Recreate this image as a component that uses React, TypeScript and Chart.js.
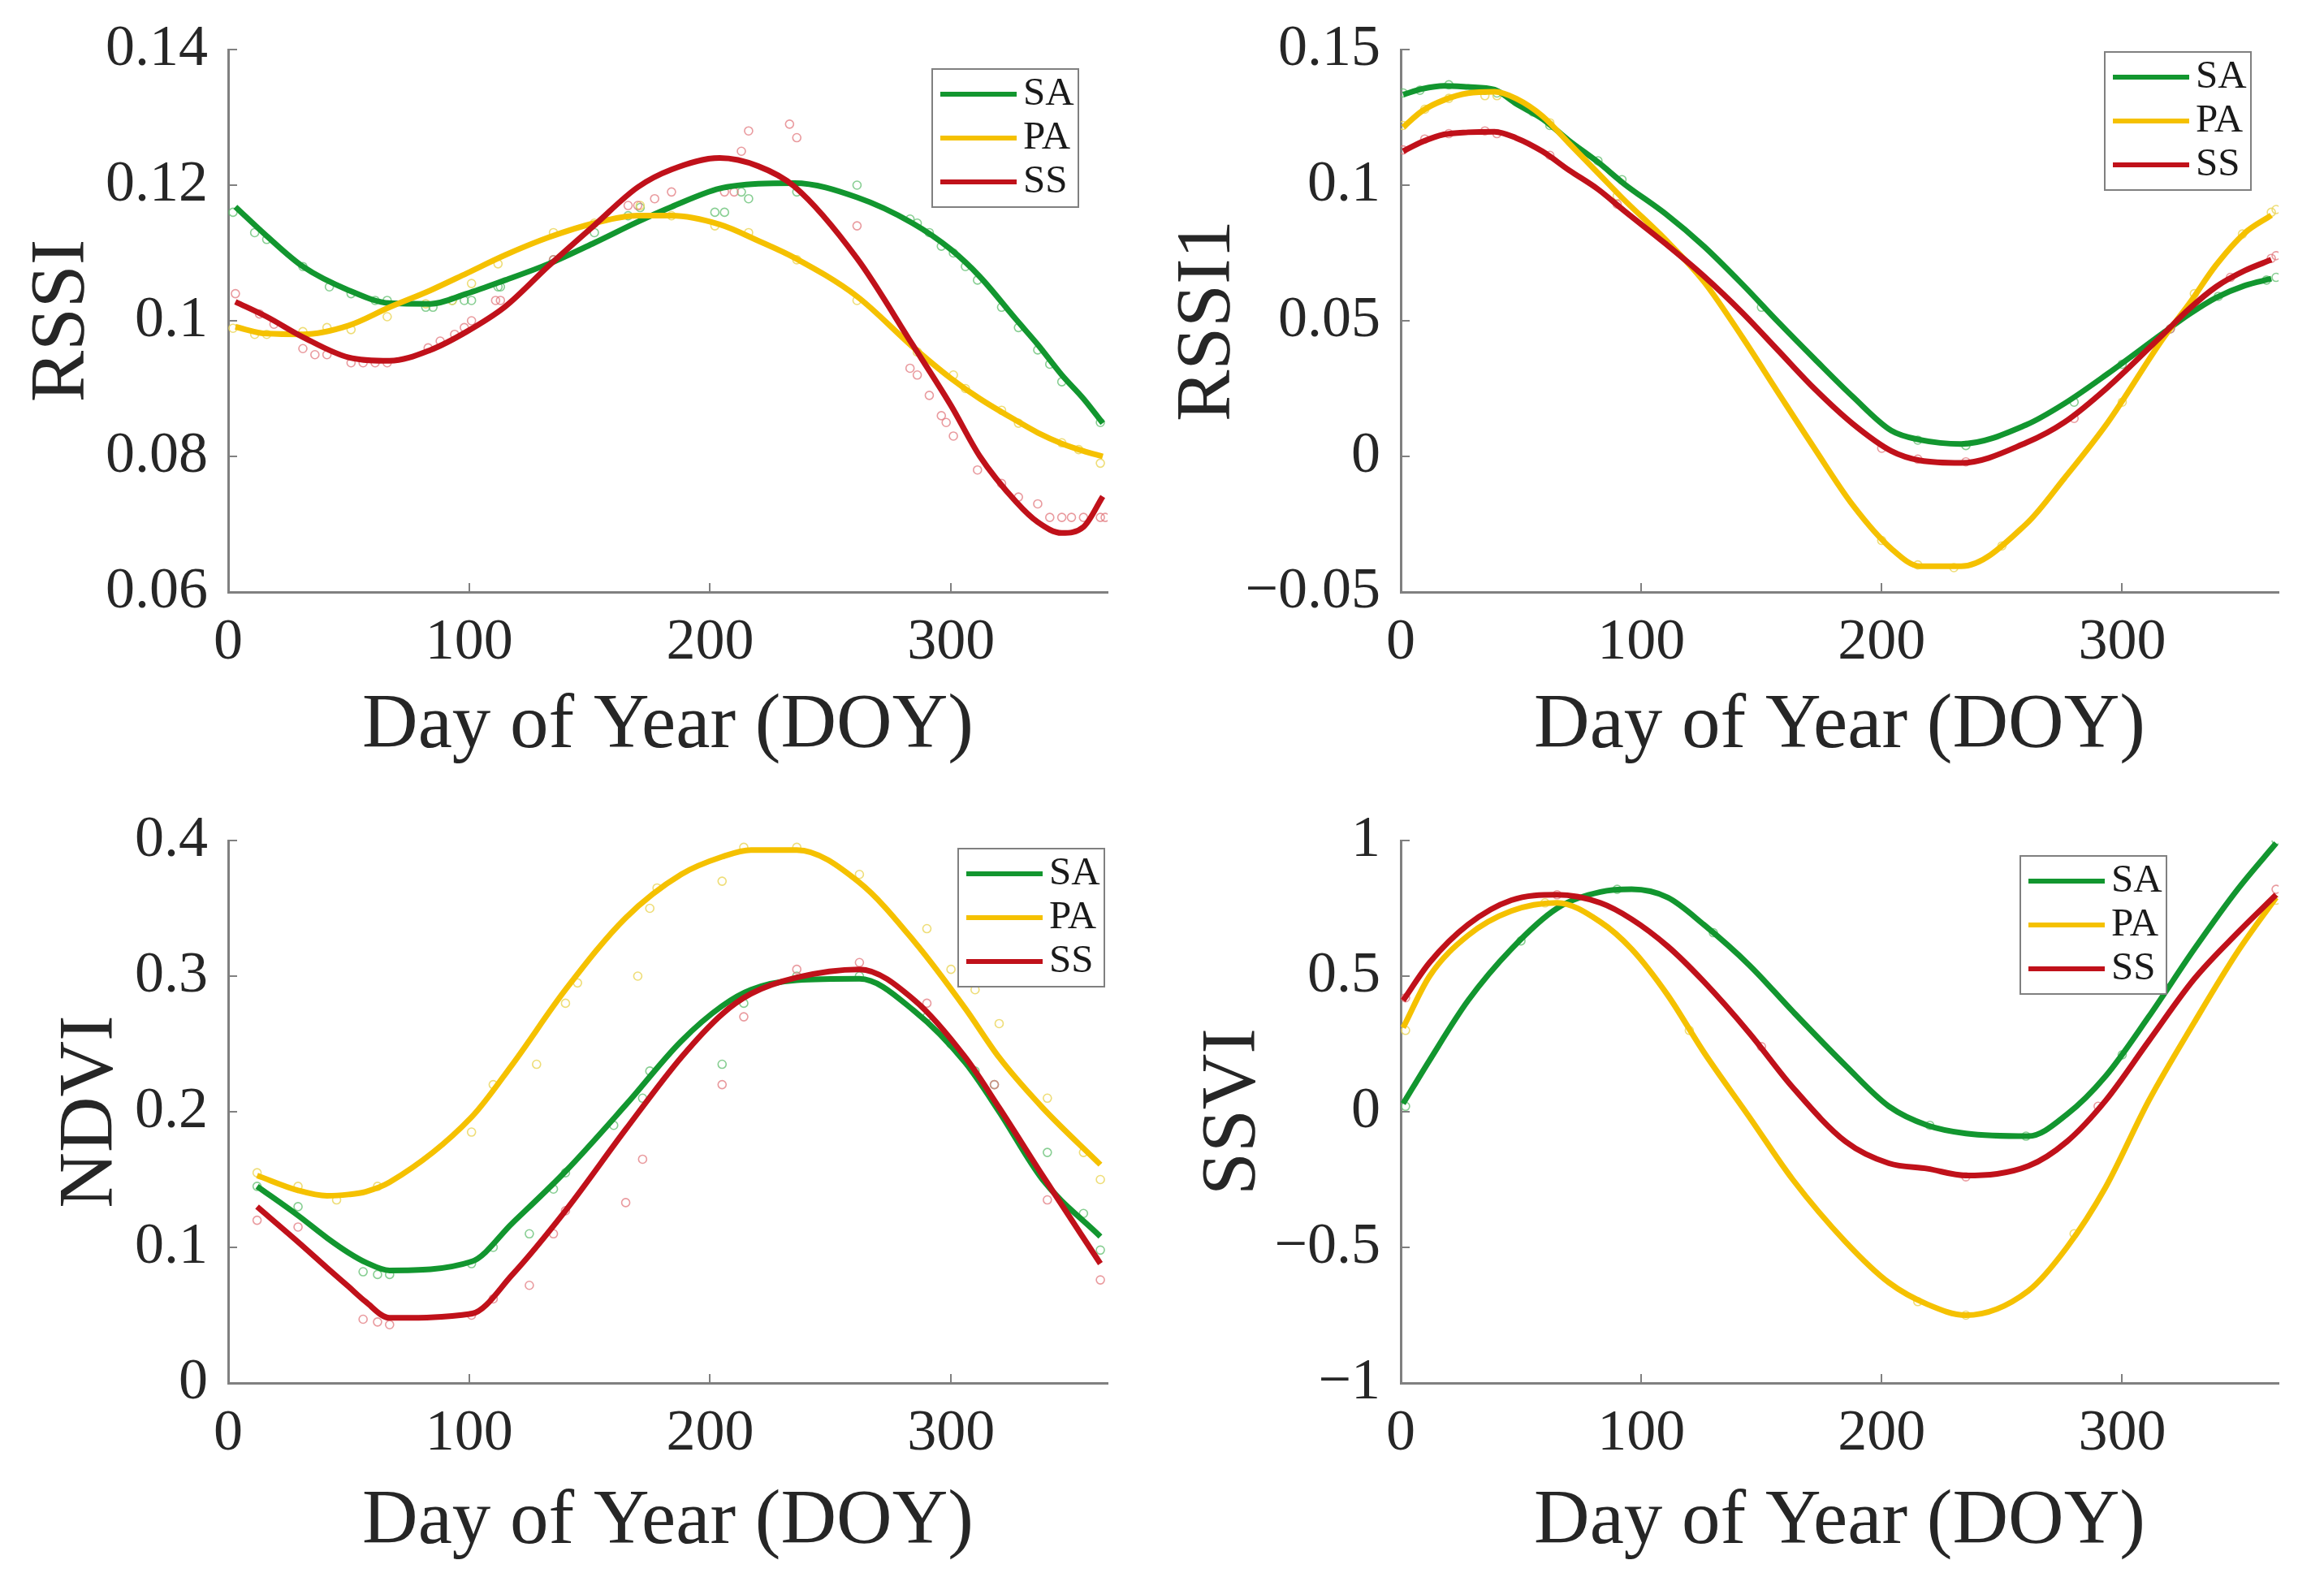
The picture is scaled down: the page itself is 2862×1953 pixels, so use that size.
import React, { useEffect, useRef } from "react";
import Chart from "chart.js/auto";

const FONT = "'Liberation Serif', 'Times New Roman', serif";
const TEXT_COLOR = "#262626";
const AXIS_COLOR = "#808080";

const seriesNames = ["SA", "PA", "SS"];
const lineColors = ["#12962f", "#f5c100", "#c0111a"];
const dotColors = [
  "rgba(95, 190, 110, 0.75)",
  "rgba(235, 215, 95, 0.85)",
  "rgba(225, 120, 125, 0.75)",
];

const doyTicks = [0, 100, 200, 300];
const doyTickLabels = ["0", "100", "200", "300"];

// RSSI (top left)
const rssiTicks = [0.06, 0.08, 0.1, 0.12, 0.14];
const rssiTickLabels = ["0.06", "0.08", "0.1", "0.12", "0.14"];
const rssiDays = [3, 16, 31, 50, 67, 84, 99, 115, 133, 152, 170, 184, 204, 220, 235, 261, 284, 300, 312, 327, 336, 346, 355, 363];
const rssiSA = [0.1168, 0.1125, 0.108, 0.1045, 0.1026, 0.1025, 0.104, 0.106, 0.1084, 0.1115, 0.1146, 0.1168, 0.1195, 0.1202, 0.1203, 0.1182, 0.1144, 0.1105, 0.1065, 0.1002, 0.0965, 0.092, 0.0885, 0.0849];
const rssiPA = [0.0991, 0.0981, 0.098, 0.0993, 0.102, 0.1045, 0.107, 0.1097, 0.1123, 0.1144, 0.1155, 0.1155, 0.1142, 0.1118, 0.1093, 0.1036, 0.0962, 0.0915, 0.0885, 0.0853, 0.0835, 0.0819, 0.0808, 0.08];
const rssiSS = [0.1028, 0.1006, 0.0976, 0.0946, 0.0941, 0.0957, 0.0984, 0.1021, 0.1081, 0.1141, 0.1197, 0.1223, 0.124, 0.1228, 0.1198, 0.1092, 0.0965, 0.0875, 0.08, 0.0733, 0.0703, 0.0687, 0.0696, 0.0741];
const rssiDotDaysSA = [2, 11, 16, 31, 42, 51, 61, 66, 82, 85, 93, 98, 101, 112, 113, 135, 152, 166, 171, 202, 206, 213, 216, 236, 261, 283, 286, 291, 296, 301, 306, 311, 321, 328, 336, 341, 346, 362];
const rssiDotsSA = [0.116, 0.113, 0.112, 0.108, 0.105, 0.104, 0.103, 0.103, 0.102, 0.102, 0.103, 0.103, 0.103, 0.105, 0.105, 0.109, 0.113, 0.1155, 0.1167, 0.116, 0.116, 0.119, 0.118, 0.119, 0.12, 0.115, 0.1144, 0.113, 0.111, 0.11, 0.108, 0.106, 0.102, 0.099, 0.0957, 0.0936, 0.091, 0.085];
const rssiDotDaysPA = [2, 11, 16, 31, 41, 51, 66, 82, 93, 101, 112, 135, 152, 171, 184, 202, 216, 236, 261, 286, 301, 306, 321, 328, 346, 353, 362];
const rssiDotsPA = [0.0989, 0.098, 0.098, 0.0984, 0.099, 0.0987, 0.1006, 0.1025, 0.103, 0.1055, 0.1084, 0.113, 0.1144, 0.117, 0.1155, 0.114, 0.113, 0.109, 0.103, 0.0954, 0.092, 0.09, 0.0868, 0.0849, 0.082, 0.081, 0.079];
const rssiDotDaysSS = [3, 13, 19, 31, 36, 41, 51, 56, 61, 66, 83, 88, 94, 98, 101, 111, 113, 135, 166, 170, 177, 184, 206, 210, 213, 216, 233, 236, 261, 283, 286, 291, 296, 298, 301, 311, 321, 328, 336, 341, 346, 350, 355, 362, 364];
const rssiDotsSS = [0.104, 0.101, 0.0995, 0.0959, 0.095, 0.095, 0.0938, 0.0938, 0.0938, 0.0938, 0.096, 0.097, 0.098, 0.099, 0.1, 0.103, 0.103, 0.109, 0.117, 0.117, 0.118, 0.119, 0.119, 0.119, 0.125, 0.128, 0.129, 0.127, 0.114, 0.093, 0.092, 0.089, 0.086, 0.085, 0.083, 0.078, 0.076, 0.074, 0.073, 0.071, 0.071, 0.071, 0.071, 0.071, 0.071];

// RSSI1 (top right)
const rssi1Ticks = [-0.05, 0, 0.05, 0.1, 0.15];
const rssi1TickLabels = ["\u22120.05", "0", "0.05", "0.1", "0.15"];
const rssi1Days = [1, 9, 18, 28, 39, 48, 59, 70, 82, 93, 110, 126, 142, 157, 172, 188, 204, 216, 233, 260, 276, 294, 317, 328, 339, 351, 362];
const rssi1SA = [0.1334, 0.1355, 0.1366, 0.1362, 0.1352, 0.13, 0.1244, 0.1164, 0.1085, 0.1004, 0.0895, 0.0775, 0.0635, 0.0495, 0.036, 0.022, 0.0095, 0.0061, 0.0046, 0.0116, 0.0195, 0.0305, 0.0455, 0.0525, 0.0585, 0.063, 0.0655];
const rssi1PA = [0.1214, 0.1274, 0.1314, 0.1339, 0.1344, 0.1319, 0.1254, 0.1154, 0.1045, 0.0945, 0.08, 0.0645, 0.044, 0.0234, 0.003, -0.018, -0.034, -0.0405, -0.0405, -0.025, -0.008, 0.0125, 0.0435, 0.0565, 0.0705, 0.0824, 0.0889];
const rssi1SS = [0.1125, 0.116, 0.1187, 0.1195, 0.1197, 0.1174, 0.1124, 0.1055, 0.0985, 0.0905, 0.0785, 0.0665, 0.053, 0.039, 0.025, 0.012, 0.002, -0.0015, -0.0024, 0.005, 0.0126, 0.0255, 0.045, 0.0545, 0.0625, 0.0685, 0.0725];
const rssi1DotDaysSA = [1, 8, 20, 35, 40, 55, 62, 82, 92, 150, 215, 235, 280, 300, 320, 340, 360, 364];
const rssi1DotsSA = [0.134, 0.135, 0.137, 0.135, 0.134, 0.127, 0.122, 0.109, 0.102, 0.055, 0.006, 0.004, 0.02, 0.034, 0.047, 0.059, 0.065, 0.066];
const rssi1DotDaysPA = [1, 10, 20, 35, 40, 62, 90, 200, 215, 230, 250, 300, 330, 350, 362, 364];
const rssi1DotsPA = [0.122, 0.128, 0.132, 0.133, 0.133, 0.123, 0.096, -0.031, -0.04, -0.041, -0.033, 0.02, 0.06, 0.082, 0.09, 0.091];
const rssi1DotDaysSS = [1, 10, 20, 35, 40, 62, 90, 200, 215, 235, 280, 320, 345, 362, 364];
const rssi1DotsSS = [0.113, 0.117, 0.119, 0.12, 0.119, 0.111, 0.093, 0.003, -0.001, -0.002, 0.014, 0.047, 0.066, 0.073, 0.074];

// NDVI (bottom left)
const ndviTicks = [0, 0.1, 0.2, 0.3, 0.4];
const ndviTickLabels = ["0", "0.1", "0.2", "0.3", "0.4"];
const ndviDays = [12, 29, 41, 50, 57, 67, 101, 118, 140, 165, 188, 205, 217, 236, 262, 285, 306, 320, 338, 362];
const ndviSA = [0.145, 0.1235, 0.107, 0.096, 0.089, 0.083, 0.0895, 0.118, 0.156, 0.205, 0.252, 0.278, 0.29, 0.297, 0.298, 0.274, 0.236, 0.2, 0.15, 0.108];
const ndviPA = [0.153, 0.142, 0.138, 0.139, 0.141, 0.148, 0.196, 0.235, 0.29, 0.343, 0.375, 0.388, 0.393, 0.393, 0.369, 0.325, 0.276, 0.24, 0.203, 0.161];
const ndviSS = [0.13, 0.104, 0.085, 0.071, 0.06, 0.048, 0.051, 0.08, 0.127, 0.187, 0.24, 0.272, 0.287, 0.299, 0.305, 0.282, 0.24, 0.203, 0.153, 0.088];
const ndviDotDaysSA = [12, 29, 56, 62, 67, 101, 110, 125, 135, 140, 160, 172, 175, 205, 214, 236, 262, 290, 300, 310, 318, 340, 355, 362];
const ndviDotsSA = [0.145, 0.13, 0.082, 0.08, 0.08, 0.088, 0.1, 0.11, 0.143, 0.155, 0.19, 0.21, 0.23, 0.235, 0.28, 0.3, 0.3, 0.27, 0.25, 0.23, 0.22, 0.17, 0.125, 0.098];
const ndviDotDaysPA = [12, 29, 45, 62, 101, 110, 128, 140, 145, 170, 175, 178, 205, 214, 236, 262, 290, 300, 310, 320, 340, 355, 362];
const ndviDotsPA = [0.155, 0.145, 0.135, 0.145, 0.185, 0.22, 0.235, 0.28, 0.295, 0.3, 0.35, 0.365, 0.37, 0.395, 0.395, 0.375, 0.335, 0.305, 0.29, 0.265, 0.21, 0.17, 0.15];
const ndviDotDaysSS = [12, 29, 56, 62, 67, 101, 110, 125, 135, 140, 165, 172, 205, 214, 236, 262, 290, 318, 340, 362];
const ndviDotsSS = [0.12, 0.115, 0.047, 0.045, 0.043, 0.05, 0.062, 0.072, 0.11, 0.127, 0.133, 0.165, 0.22, 0.27, 0.305, 0.31, 0.28, 0.22, 0.135, 0.076];

// SSVI (bottom right)
const ssviTicks = [-1, -0.5, 0, 0.5, 1];
const ssviTickLabels = ["\u22121", "\u22120.5", "0", "0.5", "1"];
const ssviDays = [1, 12, 28, 46, 65, 83, 96, 111, 126, 145, 163, 185, 203, 219, 235, 261, 277, 293, 311, 330, 348, 364];
const ssviSA = [0.03, 0.19, 0.41, 0.6, 0.75, 0.81, 0.82, 0.79, 0.69, 0.54, 0.37, 0.17, 0.02, -0.05, -0.08, -0.09, -0.01, 0.13, 0.35, 0.6, 0.82, 0.99];
const ssviPA = [0.31, 0.5, 0.65, 0.74, 0.77, 0.7, 0.6, 0.43, 0.22, -0.02, -0.25, -0.48, -0.63, -0.71, -0.75, -0.66, -0.5, -0.28, 0.04, 0.33, 0.59, 0.79];
const ssviSS = [0.41, 0.55, 0.69, 0.78, 0.8, 0.77, 0.71, 0.61, 0.48, 0.29, 0.09, -0.11, -0.19, -0.21, -0.235, -0.2, -0.11, 0.04, 0.26, 0.49, 0.66, 0.8];
const ssviDotDaysSA = [2, 50, 90, 130, 220, 260, 300, 364];
const ssviDotsSA = [0.02, 0.63, 0.82, 0.66, -0.05, -0.09, 0.21, 1.0];
const ssviDotDaysPA = [2, 60, 120, 215, 235, 280, 364];
const ssviDotsPA = [0.3, 0.77, 0.3, -0.7, -0.75, -0.45, 0.78];
const ssviDotDaysSS = [2, 65, 150, 235, 290, 364];
const ssviDotsSS = [0.42, 0.8, 0.24, -0.24, 0.02, 0.82];

// legend drawn as a framed box inside the plot, like the MATLAB one
const boxLegend = {
  id: "boxLegend",
  afterDraw(chart: any, _args: any, opts: any) {
    const { ctx, chartArea } = chart;
    const w = 180;
    const h = 170;
    const x0 = chartArea.right - opts.right - w;
    const y0 = chartArea.top + opts.top;
    ctx.save();
    ctx.fillStyle = "#ffffff";
    ctx.fillRect(x0, y0, w, h);
    ctx.strokeStyle = AXIS_COLOR;
    ctx.lineWidth = 2;
    ctx.strokeRect(x0, y0, w, h);
    const items = chart.data.datasets.filter((d: any) => !d.isDots);
    items.sort((a: any, b: any) => a.seriesIndex - b.seriesIndex);
    items.forEach((ds: any, i: number) => {
      const y = y0 + 31 + i * 54;
      ctx.strokeStyle = ds.borderColor;
      ctx.lineWidth = 6;
      ctx.beginPath();
      ctx.moveTo(x0 + 10, y);
      ctx.lineTo(x0 + 104, y);
      ctx.stroke();
      ctx.fillStyle = "#1a1a1a";
      ctx.font = `49px ${FONT}`;
      ctx.textBaseline = "middle";
      ctx.textAlign = "left";
      ctx.fillText(ds.label, x0 + 112, y);
    });
    ctx.restore();
  },
};

const toPoints = (days: number[], vals: number[]) =>
  days.map((d, i) => ({ x: d, y: vals[i] }));

interface PanelProps {
  left: number;
  top: number;
  width: number;
  height: number;
  yTitle: string;
  yTicks: number[];
  yTickLabels: string[];
  curveDays: number[];
  curves: number[][];
  dotDays: number[][];
  dots: number[][];
  padTop: number;
  padRight: number;
  yAxisWidth: number;
  xAxisHeight: number;
  yTitlePad: number;
  xTitlePad: number;
  legendRight: number;
  legendTop: number;
}

const Panel: React.FC<PanelProps> = (p) => {
  const chartRef = useRef<HTMLCanvasElement | null>(null);
  const chartInstance = useRef<Chart | null>(null);

  useEffect(() => {
    if (!chartRef.current) return;
    if (chartInstance.current) chartInstance.current.destroy();
    const ctx = chartRef.current.getContext("2d");
    if (!ctx) return;

    const lineSets = p.curves.map((vals, i) => ({
      type: "line" as const,
      label: seriesNames[i],
      seriesIndex: i,
      data: toPoints(p.curveDays, vals),
      borderColor: lineColors[i],
      backgroundColor: lineColors[i],
      borderWidth: 7,
      pointRadius: 0,
      cubicInterpolationMode: "monotone" as const,
      fill: false,
      order: 3 - i,
    }));
    const dotSets = p.dots.map((vals, i) => ({
      type: "scatter" as const,
      label: seriesNames[i] + " obs",
      isDots: true,
      data: toPoints(p.dotDays[i], vals),
      showLine: false,
      pointRadius: 5,
      pointBorderWidth: 1.6,
      pointBorderColor: dotColors[i],
      pointBackgroundColor: "rgba(0,0,0,0)",
      order: 6 - i,
    }));

    chartInstance.current = new Chart(ctx, {
      type: "line",
      data: { datasets: [...lineSets, ...dotSets] as any },
      plugins: [boxLegend as any],
      options: {
        animation: false,
        responsive: false,
        devicePixelRatio: 1,
        layout: {
          padding: { top: p.padTop, right: p.padRight, left: 0, bottom: 0 },
        },
        scales: {
          x: {
            type: "linear",
            min: 0,
            max: 365,
            afterBuildTicks: (scale: any) => {
              scale.ticks = doyTicks.map((value) => ({ value }));
            },
            afterFit: (scale: any) => {
              scale.height = p.xAxisHeight;
            },
            ticks: {
              autoSkip: false,
              maxRotation: 0,
              padding: 31,
              color: TEXT_COLOR,
              font: { family: FONT, size: 72 },
              callback: (_v: any, i: number) => doyTickLabels[i],
            },
            grid: {
              drawOnChartArea: false,
              drawTicks: true,
              tickLength: -11,
              color: AXIS_COLOR,
              lineWidth: 2,
            },
            border: { display: true, color: AXIS_COLOR, width: 3 },
            title: {
              display: true,
              text: "Day of Year (DOY)",
              color: TEXT_COLOR,
              font: { family: FONT, size: 95, lineHeight: 1 },
              padding: { top: 0, bottom: p.xTitlePad },
            },
          },
          y: {
            type: "linear",
            min: p.yTicks[0],
            max: p.yTicks[p.yTicks.length - 1],
            afterBuildTicks: (scale: any) => {
              scale.ticks = p.yTicks.map((value) => ({ value }));
            },
            afterFit: (scale: any) => {
              scale.width = p.yAxisWidth;
            },
            ticks: {
              autoSkip: false,
              padding: 36,
              color: TEXT_COLOR,
              // small line height keeps the label overhang from pushing the plot down
              font: { family: FONT, size: 72, lineHeight: 0.5 },
              callback: (_v: any, i: number) => p.yTickLabels[i],
            },
            grid: {
              drawOnChartArea: false,
              drawTicks: true,
              tickLength: -11,
              color: AXIS_COLOR,
              lineWidth: 2,
            },
            border: { display: true, color: AXIS_COLOR, width: 3 },
            title: {
              display: true,
              text: p.yTitle,
              color: TEXT_COLOR,
              font: { family: FONT, size: 95, lineHeight: 1 },
              padding: { top: p.yTitlePad, bottom: 0 },
            },
          },
        },
        plugins: {
          legend: { display: false },
          tooltip: { enabled: false },
          boxLegend: { right: p.legendRight, top: p.legendTop },
        } as any,
      },
    });

    return () => {
      if (chartInstance.current) {
        chartInstance.current.destroy();
        chartInstance.current = null;
      }
    };
  }, [p]);

  return (
    <div
      style={{
        position: "absolute",
        left: p.left,
        top: p.top,
        width: p.width,
        height: p.height,
      }}
    >
      <canvas
        ref={chartRef}
        width={p.width}
        height={p.height}
        style={{ display: "block", width: p.width, height: p.height }}
      />
    </div>
  );
};

const panels: PanelProps[] = [
  {
    left: 0, top: 0, width: 1431, height: 976,
    yTitle: "RSSI", yTicks: rssiTicks, yTickLabels: rssiTickLabels,
    curveDays: rssiDays, curves: [rssiSA, rssiPA, rssiSS],
    dotDays: [rssiDotDaysSA, rssiDotDaysPA, rssiDotDaysSS],
    dots: [rssiDotsSA, rssiDotsPA, rssiDotsSS],
    padTop: 61, padRight: 67, yAxisWidth: 281, xAxisHeight: 247,
    yTitlePad: 31, xTitlePad: 33, legendRight: 36, legendTop: 24,
  },
  {
    left: 1431, top: 0, width: 1431, height: 976,
    yTitle: "RSSI1", yTicks: rssi1Ticks, yTickLabels: rssi1TickLabels,
    curveDays: rssi1Days, curves: [rssi1SA, rssi1PA, rssi1SS],
    dotDays: [rssi1DotDaysSA, rssi1DotDaysPA, rssi1DotDaysSS],
    dots: [rssi1DotsSA, rssi1DotsPA, rssi1DotsSS],
    padTop: 61, padRight: 56, yAxisWidth: 294, xAxisHeight: 247,
    yTitlePad: 11, xTitlePad: 33, legendRight: 34, legendTop: 3,
  },
  {
    left: 0, top: 976, width: 1431, height: 977,
    yTitle: "NDVI", yTicks: ndviTicks, yTickLabels: ndviTickLabels,
    curveDays: ndviDays, curves: [ndviSA, ndviPA, ndviSS],
    dotDays: [ndviDotDaysSA, ndviDotDaysPA, ndviDotDaysSS],
    dots: [ndviDotsSA, ndviDotsPA, ndviDotsSS],
    padTop: 59, padRight: 67, yAxisWidth: 281, xAxisHeight: 250,
    yTitlePad: 66, xTitlePad: 30, legendRight: 4, legendTop: 10,
  },
  {
    left: 1431, top: 976, width: 1431, height: 977,
    yTitle: "SSVI", yTicks: ssviTicks, yTickLabels: ssviTickLabels,
    curveDays: ssviDays, curves: [ssviSA, ssviPA, ssviSS],
    dotDays: [ssviDotDaysSA, ssviDotDaysPA, ssviDotDaysSS],
    dots: [ssviDotsSA, ssviDotsPA, ssviDotsSS],
    padTop: 59, padRight: 56, yAxisWidth: 294, xAxisHeight: 250,
    yTitlePad: 42, xTitlePad: 30, legendRight: 138, legendTop: 19,
  },
];

const App: React.FC = () => (
  <div
    style={{
      position: "absolute",
      left: 0,
      top: 0,
      width: 2862,
      height: 1953,
      background: "#ffffff",
      overflow: "hidden",
    }}
  >
    {panels.map((p) => (
      <Panel key={p.yTitle} {...p} />
    ))}
  </div>
);

export default App;
